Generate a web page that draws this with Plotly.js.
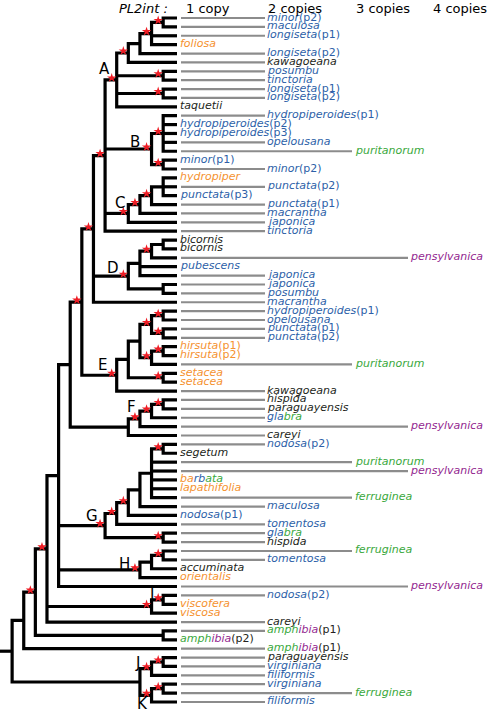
<!DOCTYPE html>
<html><head><meta charset="utf-8">
<script src="https://cdn.plot.ly/plotly-3.0.1.min.js"></script>
<style>html,body{margin:0;padding:0;background:#fff}#chart{width:492px;height:712px}</style>
</head><body><div id="chart"></div>
<script>
// ---------- data ----------
const leafNames = ["minor","maculosa","longiseta","foliosa","longiseta","kawagoeana","posumbu","tinctoria","longiseta","longiseta",
 "taquetii","hydropiperoides","hydropiperoides","hydropiperoides","opelousana","puritanorum","minor","minor","hydropiper","punctata",
 "punctata","punctata","macrantha","japonica","tinctoria","bicornis","bicornis","pensylvanica","pubescens","japonica",
 "japonica","posumbu","macrantha","hydropiperoides","opelousana","punctata","punctata","hirsuta","hirsuta","puritanorum",
 "setacea","setacea","kawagoeana","hispida","paraguayensis","gla|bra","pensylvanica","careyi","nodosa","segetum",
 "puritanorum","pensylvanica","ba|rb|ata","lapathifolia","ferruginea","maculosa","nodosa","tomentosa","gla|bra","hispida",
 "ferruginea","tomentosa","accuminata","orientalis","pensylvanica","nodosa","viscofera","viscosa","careyi","amph|ibia",
 "amph|ibia","amph|ibia","paraguayensis","virginiana","filiformis","virginiana","ferruginea","filiformis"];
const leafSuffix = ["(p2)","","(p1)","","(p2)","","","","(p1)","(p2)",
 "","(p1)","(p2)","(p3)","","","(p1)","(p2)","","(p2)",
 "(p3)","(p1)","","","","","","","","",
 "","","","(p1)","","(p1)","(p2)","(p1)","(p2)","",
 "","","","","","","","","(p2)","",
 "","","","","","","(p1)","","","",
 "","","","","","(p2)","","","","(p1)",
 "(p2)","(p1)","","","","","",""];
const leafCopies = [2,2,2,1,2,2,2,2,2,2,
 1,2,1,1,2,3,1,2,1,2,
 1,2,2,2,2,1,1,4,1,2,
 2,2,2,2,2,2,2,1,1,3,
 1,1,2,2,2,2,4,2,2,1,
 3,4,1,1,3,2,1,2,2,2,
 3,2,1,1,4,2,1,1,2,2,
 1,2,2,2,2,2,3,2];
const leafColors = ["b","b","b","o","b","k","b","b","b","b",
 "k","b","b","b","b","g","b","b","o","b",
 "b","b","b","b","b","k","k","p","b","b",
 "b","b","b","b","b","b","b","o","o","g",
 "o","o","k","k","k","b|g","p","k","b","k",
 "g","p","o|b|g","o","g","b","b","b","b|g","k",
 "g","b","k","o","p","b","o","o","k","g|p",
 "g|p","g|p","k","b","b","b","g","b"];
const copyHeaders = ["1 copy","2 copies","3 copies","4 copies"];
const headerTitle = "PL2int :";

// tree: (children)depth[*=supported][clade letter]; leaves are row indices
const cladeA = "(((((0,1)14*,2,3)13*,4)12,5)11*,(6,7)14*,(8,9)14*,10)10*A";
const cladeB = "((11,12,13,14,15)14*,(16,17)14*)13*B";
const cladeC = "((((18,19,20)14,21)13*,22)12*,23)11*C";
const cladeD = "((((25,26)14,27)13*,28,29)12,(30,31)14)11*D";
const cladeE = "(((((33,34)14*,(35,36)14*)13*,((37,38)14*,39)13*)12,(40,41)14*)11,42)10*E";
const cladeF = "((((43,44)14*,45)13*,46)12*F,47)11";
const cladeG = "((((((48,49)14*,50,51,52,53,54)13,55)12,56)11*,57)10*,(58,59)14*)9*G";
const cladeH = "(((60,61)14*,62)13,63)12*H";
const cladeI = "((65,66)14*I,67)13*";
const cladeJK = "(((72,73)14*,74)13*J,((75,76)14*,77)13*K)12";
const n106 = "(" + cladeA + "," + cladeB + "," + cladeC + ",24)9*";
const n93 = "(" + n106 + "," + cladeD + ",32)8*";
const n82 = "(" + n93 + "," + cladeE + ")7*";
const n70 = "(" + n82 + "," + cladeF + ")6";
const n59 = "(" + n70 + "," + cladeG + "," + cladeH + ",64)5";
const n47 = "(" + n59 + "," + cladeI + ",68)4*";
const n35 = "(" + n47 + ",(69,70)14)3*";
const n24 = "(" + n35 + ",71)2";
const treeString = "(" + n24 + "," + cladeJK + ")1";

// ---------- style / layout ----------
const COL = {b:'#2d5fa8', o:'#f5922f', k:'#231f20', g:'#3aa83c', p:'#93278f'};
const ROW0 = 18, ROWH = 8.883, TIP = 177, GREY_START = 181;
const depthX = d => 0.5 + 11.62 * d;
const lineEnd = {2:265, 3:352, 4:408};
const labelX = {1:179, 2:266, 3:354, 4:409};
const headerX = [185, 267, 355, 432];
const cladeOffset = {A:[-12,-11],B:[-17,-7],C:[-8,-10],D:[-15,-8],E:[-14,-10],F:[-8,-12],
  G:[-13,-10],H:[-15,-6],I:[-11,-5],J:[-14,-6],K:[-9,9]};

function parse(s){
  let i = 0;
  function num(){ const j = i; while (i < s.length && /[0-9]/.test(s[i])) i++; return parseInt(s.slice(j, i)); }
  function node(){
    if (s[i] === '('){
      i++; const ch = [node()];
      while (s[i] === ','){ i++; ch.push(node()); }
      i++;
      const d = num(); let star = false, label = null;
      if (s[i] === '*'){ star = true; i++; }
      if (i < s.length && /[A-Z]/.test(s[i])){ label = s[i]; i++; }
      return {children: ch, depth: d, star, label};
    }
    return {leaf: num()};
  }
  return node();
}
const root = parse(treeString);
function place(n){
  if (n.leaf !== undefined){ n.x = TIP; n.y = n.leaf; return; }
  n.children.forEach(place);
  n.x = depthX(n.depth);
  n.y = (n.children[0].y + n.children[n.children.length - 1].y) / 2;
}
place(root);

const tx = [0, root.x, null], ty = [root.y, root.y, null];
const sx = [], sy = [];
const annotations = [];
function draw(n){
  if (n.leaf !== undefined) return;
  const f = n.children[0], l = n.children[n.children.length - 1];
  tx.push(f.x, n.x, n.x, l.x, null); ty.push(f.y, f.y, l.y, l.y, null);
  for (let k = 1; k < n.children.length - 1; k++){
    const c = n.children[k]; tx.push(n.x, c.x, null); ty.push(c.y, c.y, null);
  }
  if (n.star){ sx.push(n.x - 5); sy.push(n.y - 2 / ROWH); }
  if (n.label){
    const o = cladeOffset[n.label];
    annotations.push({x: n.x, y: n.y, xref:'x', yref:'y', text: n.label, showarrow:false,
      xanchor:'center', yanchor:'middle', xshift:o[0], yshift:-o[1], borderpad:0,
      font:{family:'DejaVu Sans', size:15, color:'#000'}});
  }
  n.children.forEach(draw);
}
draw(root);

// grey copy lines
const gx = [], gy = [];
leafCopies.forEach((c, i) => { if (c > 1){ gx.push(GREY_START, lineEnd[c], null); gy.push(i, i, null); } });

function leafText(i){
  const names = leafNames[i].split('|'), cols = leafColors[i].split('|');
  let t = names.map((nm, k) => `<span style="color:${COL[cols[k]]}"><i>${nm}</i></span>`).join('');
  if (leafSuffix[i]) t += `<span style="color:${COL[cols.length > 1 ? 'k' : cols[0]]}">${leafSuffix[i]}</span>`;
  return t;
}
leafNames.forEach((nm, i) => {
  annotations.push({x: labelX[leafCopies[i]], y: i, xref:'x', yref:'y', text: leafText(i), showarrow:false,
    xanchor:'left', yanchor:'middle', yshift:1, borderpad:0,
    font:{family:'DejaVu Sans', size:11}});
});
annotations.push({x:118, y:1, xref:'x', yref:'paper', text:'<i>' + headerTitle + '</i>', showarrow:false,
  xanchor:'left', yanchor:'top', borderpad:0, font:{family:'DejaVu Sans', size:13, color:'#000'}});
copyHeaders.forEach((h, k) => annotations.push({x: headerX[k], y:1, xref:'x', yref:'paper', text:h,
  showarrow:false, xanchor:'left', yanchor:'top', borderpad:0, font:{family:'DejaVu Sans', size:13, color:'#000'}}));

const traces = [
  {x: gx, y: gy, mode:'lines', line:{color:'#8c8c8c', width:2.2}, hoverinfo:'skip', showlegend:false},
  {x: tx, y: ty, mode:'lines', line:{color:'#000', width:3.2}, hoverinfo:'skip', showlegend:false},
  {x: sx, y: sy, mode:'markers', marker:{symbol:'star', size:7, color:'#ee1c24'}, hoverinfo:'skip', showlegend:false}
];
const layout = {
  width:492, height:712, margin:{l:0, r:0, t:0, b:0, pad:0},
  paper_bgcolor:'#fff', plot_bgcolor:'#fff', showlegend:false,
  xaxis:{range:[0, 492], visible:false, fixedrange:true},
  yaxis:{range:[(712 - ROW0) / ROWH, -ROW0 / ROWH], visible:false, fixedrange:true},
  annotations
};
Plotly.newPlot('chart', traces, layout, {staticPlot:true, displayModeBar:false});
</script></body></html>
